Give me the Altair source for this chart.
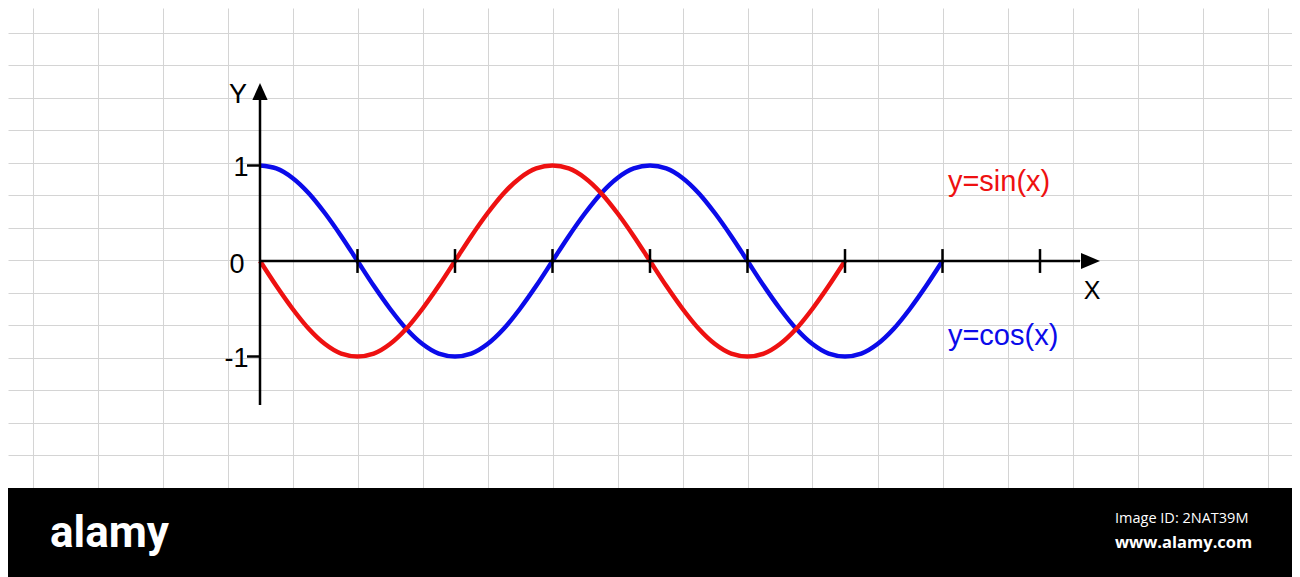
import altair as alt
import pandas as pd

# ---- data ----
ANGLE_DEG = [0, 15, 30, 45, 60, 75, 90, 105, 120, 135, 150, 165, 180,
             195, 210, 225, 240, 255, 270, 285, 300, 315, 330, 345, 360,
             375, 390, 405, 420, 435, 450, 465, 480, 495, 510, 525, 540,
             555, 570, 585, 600, 615, 630]
# red curve (labelled y=sin(x)), 0..540 deg
SIN_Y = [0, -0.26, -0.5, -0.71, -0.87, -0.97, -1, -0.97, -0.87, -0.71, -0.5, -0.26, 0,
         0.26, 0.5, 0.71, 0.87, 0.97, 1, 0.97, 0.87, 0.71, 0.5, 0.26, 0,
         -0.26, -0.5, -0.71, -0.87, -0.97, -1, -0.97, -0.87, -0.71, -0.5, -0.26, 0]
# blue curve (labelled y=cos(x)), 0..630 deg
COS_Y = [1, 0.97, 0.87, 0.71, 0.5, 0.26, 0, -0.26, -0.5, -0.71, -0.87, -0.97, -1,
         -0.97, -0.87, -0.71, -0.5, -0.26, 0, 0.26, 0.5, 0.71, 0.87, 0.97, 1,
         0.97, 0.87, 0.71, 0.5, 0.26, 0, -0.26, -0.5, -0.71, -0.87, -0.97, -1,
         -0.97, -0.87, -0.71, -0.5, -0.26, 0]
X_TICKS_DEG = [90, 180, 270, 360, 450, 540, 630, 720]
Y_TICKS = [1, -1]
Y_TICK_LABELS = ["1", "0", "-1"]

sin_df = pd.DataFrame({"deg": ANGLE_DEG[:len(SIN_Y)], "v": SIN_Y})
cos_df = pd.DataFrame({"deg": ANGLE_DEG, "v": COS_Y})
xt_df = pd.DataFrame({"deg": X_TICKS_DEG})
yt_df = pd.DataFrame({"v": Y_TICKS})
one = alt.Data(values=[{}])

# ---- layout ----
W, H = 1284, 569
PX_PER_DEG = 97.5 / 90
PX_PER_UNIT = 95.5
OX, OY = 260 - 8, 261 - 8
x_dom = [-OX / PX_PER_DEG, (W - OX) / PX_PER_DEG]
y_dom = [-(H - OY) / PX_PER_UNIT, OY / PX_PER_UNIT]
grid_x = [30 * k for k in range(-8, 32)]
grid_y = [(261 - 32.5 * k) / PX_PER_UNIT for k in range(1, 15)]

RED = "#ee1111"
BLUE = "#0b0bea"
GRID = "#d4d4d4"
FONT = "Liberation Sans"

xs = alt.Scale(domain=x_dom, nice=False, zero=False)
ys = alt.Scale(domain=y_dom, nice=False, zero=False)
ax_common = dict(grid=True, labels=False, ticks=False, domain=False, title=None,
                 gridColor=GRID, gridWidth=1, gridOpacity=1)

blue = alt.Chart(cos_df).mark_line(color=BLUE, strokeWidth=4.5, interpolate="monotone").encode(
    x=alt.X("deg:Q", scale=xs, axis=alt.Axis(values=grid_x, **ax_common)),
    y=alt.Y("v:Q", scale=ys, axis=alt.Axis(values=grid_y, **ax_common)),
)
red = alt.Chart(sin_df).mark_line(color=RED, strokeWidth=4.5, interpolate="monotone").encode(
    x="deg:Q", y="v:Q"
)

x_axis = alt.Chart(one).mark_rule(color="black", strokeWidth=2.5).encode(
    x=alt.datum(0), x2=alt.datum(757), y=alt.datum(0))
y_axis = alt.Chart(one).mark_rule(color="black", strokeWidth=2.5).encode(
    x=alt.datum(0), y=alt.datum(-1.508), y2=alt.datum(1.70))
x_ticks = alt.Chart(xt_df).mark_rule(color="black", strokeWidth=2.5).encode(
    x="deg:Q", y=alt.datum(-0.125), y2=alt.datum(0.125))
y_ticks = alt.Chart(yt_df).mark_rule(color="black", strokeWidth=2.5).encode(
    x=alt.datum(-12), x2=alt.datum(0), y="v:Q")
x_arrow = alt.Chart(one).mark_point(shape="M1,0L-1,-0.85L-1,0.85Z", size=361, filled=True,
                                    color="black", opacity=1).encode(
    x=alt.datum(766.6), y=alt.datum(0))
y_arrow = alt.Chart(one).mark_point(shape="M0,-1L0.9,1L-0.9,1Z", size=289, filled=True,
                                    color="black", opacity=1).encode(
    x=alt.datum(0), y=alt.datum(1.775))


def label(text, x, y, size=27, color="black", align="center"):
    return alt.Chart(one).mark_text(text=text, font=FONT, fontSize=size, color=color,
                                    align=align, baseline="middle").encode(
        x=alt.datum(x), y=alt.datum(y))


labels = [
    label("Y", -20.3, 1.743),
    label(Y_TICK_LABELS[0], -10.6, 0.969, align="right"),
    label(Y_TICK_LABELS[1], -14.3, -0.037, align="right"),
    label(Y_TICK_LABELS[2], -10.6, -1.031, align="right"),
    label("X", 768, -0.319, size=25),
    label("y=sin(x)", 635, 0.827, size=29, color=RED, align="left"),
    label("y=cos(x)", 635, -0.785, size=29, color=BLUE, align="left"),
]

band = alt.Chart(one).mark_rect(color="black").encode(
    x=alt.value(0), x2=alt.value(W), y=alt.value(480), y2=alt.value(H))
logo = alt.Chart(one).mark_text(
    text="alamy", font="Roboto", fontWeight="bold", fontSize=44, color="white",
    align="left", baseline="alphabetic").encode(
    x=alt.value(42), y=alt.value(539))
img_id = alt.Chart(one).mark_text(text="Image ID: 2NAT39M", font="Open Sans", fontSize=14.5,
                                  color="white", align="left", baseline="middle").encode(
    x=alt.value(1107), y=alt.value(511))
site = alt.Chart(one).mark_text(text="www.alamy.com", font="Open Sans", fontWeight="bold",
                                fontSize=16.5, color="white", align="left",
                                baseline="middle").encode(
    x=alt.value(1107), y=alt.value(535))

chart = alt.layer(
    blue, red, x_axis, y_axis, x_ticks, y_ticks, x_arrow, y_arrow, *labels,
    band, logo, img_id, site,
).properties(
    width=W, height=H, padding=0, background="white",
    autosize=alt.AutoSizeParams(type="none"),
).configure_view(stroke=None)

chart.save("out.html", embed_options={"renderer": "svg", "actions": False})
